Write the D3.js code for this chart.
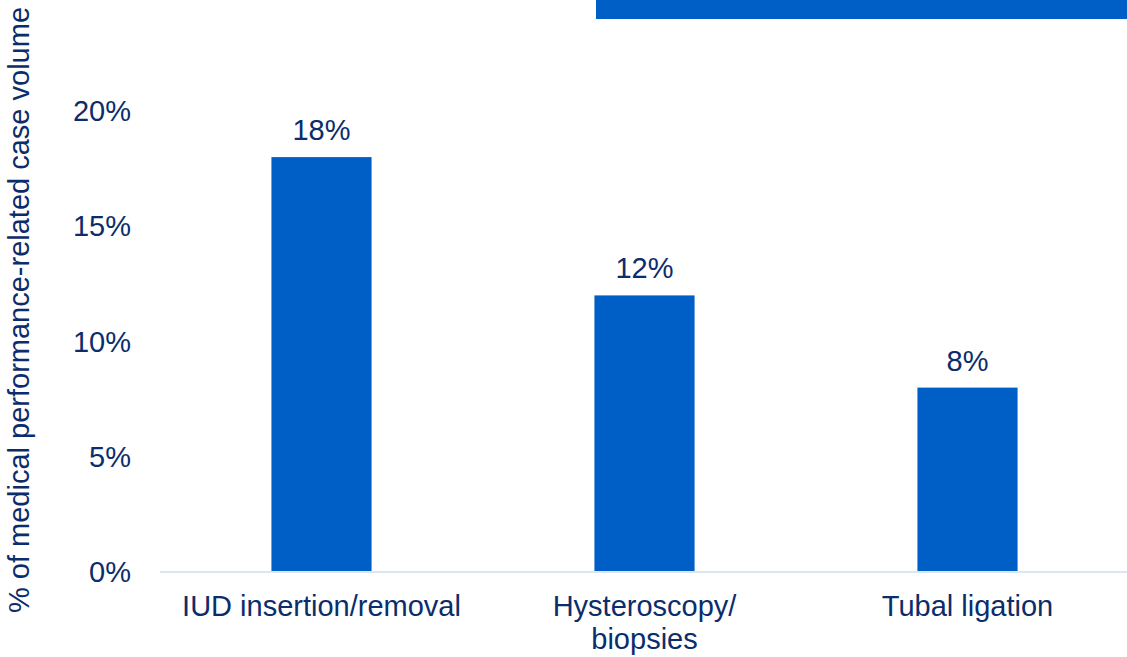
<!DOCTYPE html>
<html lang="en">
<head>
  <meta charset="UTF-8" />
  <title>Medical performance-related case volume</title>
  <script src="https://d3js.org/d3.v7.min.js"></script>
  <style>
    body { margin:0; padding:0; background:#fff; }
    svg { display:block; }
    text { font-family:"Liberation Sans", Arial, sans-serif; fill:#0b2d6b; }
  </style>
</head>
<body>
  <svg></svg>
  <script>
  // chart data
  const categories = [["IUD insertion/removal"], ["Hysteroscopy/", "biopsies"], ["Tubal ligation"]];
  const values = [18, 12, 8];
  const yTicks = [0, 5, 10, 15, 20];
  const yTitle = "% of medical performance-related case volume";

  const W = 1127, H = 657;
  const barColor = "#005fc6";

  const svg = d3.select("svg").attr("width", W).attr("height", H);

  const keys = categories.map(c => c.join(" "));
  const x = d3.scaleBand()
    .domain(keys)
    .range([160, 1129])
    .paddingInner(0.69)
    .paddingOuter(0.345);
  const y = d3.scaleLinear().domain([0, 20]).range([572, 111]);

  // band across the top (cut-off header shape)
  svg.append("rect")
    .attr("x", 596).attr("y", 0)
    .attr("width", W - 596).attr("height", 19)
    .attr("fill", barColor);

  // y tick labels
  svg.append("g").selectAll("text").data(yTicks).enter().append("text")
    .attr("x", 131)
    .attr("y", d => y(d))
    .attr("dy", "0.35em")
    .attr("text-anchor", "end")
    .style("font-size", "29px")
    .text(d => d + "%");

  // y title
  svg.append("text")
    .attr("transform", "translate(29,310) rotate(-90)")
    .attr("text-anchor", "middle")
    .style("font-size", "29px")
    .text(yTitle);

  // bars
  svg.append("g").selectAll("rect").data(values).enter().append("rect")
    .attr("x", (d, i) => x(keys[i]))
    .attr("y", d => y(d))
    .attr("width", x.bandwidth())
    .attr("height", d => y(0) - y(d))
    .attr("fill", barColor);

  // baseline
  svg.append("line")
    .attr("x1", 160).attr("x2", W)
    .attr("y1", y(0)).attr("y2", y(0))
    .attr("stroke", "#dce6f1").attr("stroke-width", 2);

  // value labels
  svg.append("g").selectAll("text").data(values).enter().append("text")
    .attr("x", (d, i) => x(keys[i]) + x.bandwidth() / 2)
    .attr("y", d => y(d) - 17)
    .attr("text-anchor", "middle")
    .style("font-size", "29px")
    .text(d => d + "%");

  // category labels
  const cat = svg.append("g").selectAll("text").data(categories).enter().append("text")
    .attr("x", (d, i) => x(keys[i]) + x.bandwidth() / 2)
    .attr("y", 616)
    .attr("text-anchor", "middle")
    .style("font-size", "29px");
  cat.selectAll("tspan").data(d => d).enter().append("tspan")
    .attr("x", function() { return this.parentNode.getAttribute("x"); })
    .attr("dy", (d, i) => i === 0 ? 0 : 33)
    .text(d => d);
  </script>
</body>
</html>
